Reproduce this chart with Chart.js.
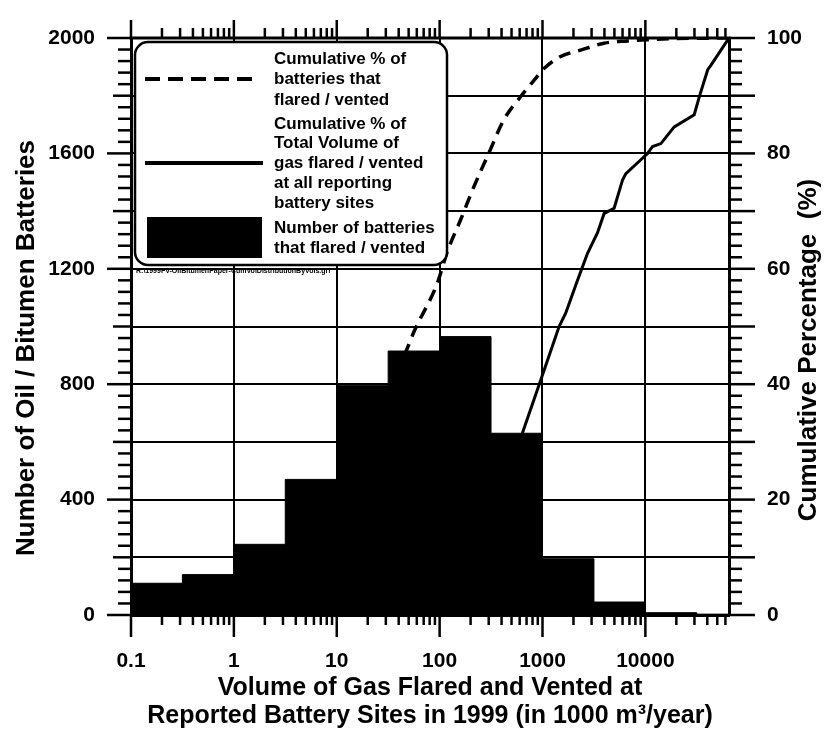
<!DOCTYPE html>
<html>
<head>
<meta charset="utf-8">
<script src="https://cdn.jsdelivr.net/npm/chart.js@4.4.1/dist/chart.umd.min.js"></script>
<style>
html,body{margin:0;padding:0;background:#fff;}
#wrap{width:827px;height:731px;position:relative;}
canvas{display:block;}
</style>
</head>
<body>
<div id="wrap"><canvas id="c" width="827" height="731"></canvas></div>
<script>
// ---------------- DATA ----------------
// Histogram bin edges (1000 m3/year, half-decade bins) and battery counts per bin
const binEdges = [0.1, 0.316, 1, 3.16, 10, 31.6, 100, 316, 1000, 3162, 10000, 31623, 65000];
const batteryCounts = [110, 140, 245, 470, 795, 915, 965, 630, 195, 45, 8, 3];

// Cumulative % of batteries that flared / vented (dashed line)
const cumBatteriesX   = [0.1, 0.316, 1, 3.16, 10, 20, 31.6, 50, 56, 95, 119, 160, 215, 300, 420, 610, 830, 1035, 1500, 2350, 3950, 6760, 10500, 20000, 65000];
const cumBatteriesPct = [0, 2.4, 5.5, 11, 21.5, 31, 38.5, 46.8, 49, 57.5, 63, 68.5, 74.2, 80, 85.8, 89.8, 92.7, 94.7, 96.8, 97.9, 99.1, 99.5, 99.7, 99.9, 100];

// Cumulative % of total volume flared / vented (solid line)
const cumVolumeX   = [0.1, 1, 10, 100, 316, 637, 960, 1450, 1680, 2190, 2740, 3420, 3975, 4970, 6000, 6460, 9040, 10500, 11750, 14160, 19070, 29850, 33420, 40360, 43460, 65000];
const cumVolumePct = [0, 0.2, 1.5, 8, 19, 31.5, 40.7, 50, 52.3, 58, 62.7, 66.2, 69.6, 70.5, 75.4, 76.5, 78.9, 80, 81.2, 81.7, 84.6, 86.7, 89.8, 94.5, 95.3, 100];

// Axis ticks
const xTickValues = [0.1, 1, 10, 100, 1000, 10000];
const xTickLabels = ['0.1', '1', '10', '100', '1000', '10000'];
const leftGridValues = [0, 200, 400, 600, 800, 1000, 1200, 1400, 1600, 1800, 2000];
const leftTickValues = [0, 400, 800, 1200, 1600, 2000];
const leftTickLabels = ['0', '400', '800', '1200', '1600', '2000'];
const rightTickValues = [0, 20, 40, 60, 80, 100];
const rightTickLabels = ['0', '20', '40', '60', '80', '100'];

// Texts
const xTitleLines = ['Volume of Gas Flared and Vented at', 'Reported Battery Sites in 1999 (in 1000 m\u00B3/year)'];
const yLeftTitle = 'Number of Oil / Bitumen Batteries';
const yRightTitle = 'Cumulative Percentage  (%)';
const legendBatteries = ['Cumulative % of', 'batteries that', 'flared / vented'];
const legendVolume = ['Cumulative % of', 'Total Volume of', 'gas flared / vented', 'at all reporting', 'battery sites'];
const legendCount = ['Number of batteries', 'that flared / vented'];
const fileNote = 'R:\\1999FV-OilBitumenPaper-CumVolDistributionByVols.grf';

// ---------------- CHART ----------------
const FONT = "'Liberation Sans', Arial, Helvetica, sans-serif";
const BLACK = '#000000';

const histPoints = binEdges.map((x, i) => ({ x, y: batteryCounts[Math.min(i, batteryCounts.length - 1)] }));
const battPoints = cumBatteriesX.map((x, i) => ({ x, y: cumBatteriesPct[i] }));
const volPoints = cumVolumeX.map((x, i) => ({ x, y: cumVolumePct[i] }));

function seg(ctx, x1, y1, x2, y2) { ctx.beginPath(); ctx.moveTo(x1, y1); ctx.lineTo(x2, y2); ctx.stroke(); }
function noPad(s) { s.paddingTop = 0; s.paddingBottom = 0; s.paddingLeft = 0; s.paddingRight = 0; }

const decorPlugin = {
  id: 'decor',
  afterDraw(chart) {
    const { ctx, chartArea: ca, scales } = chart;
    const x = scales.x, y = scales.y, y2 = scales.y2;
    ctx.save();
    ctx.strokeStyle = BLACK; ctx.fillStyle = BLACK; ctx.lineCap = 'butt';

    // top frame line
    ctx.lineWidth = 3;
    seg(ctx, ca.left - 1.5, ca.top, ca.right + 1.5, ca.top);

    // log tick marks bottom & top
    ctx.lineWidth = 2.5;
    for (let d = 0.1; d <= x.max; d *= 10) {
      for (let m = 1; m <= 9; m++) {
        const v = d * m;
        if (v < x.min * 0.999 || v > x.max) continue;
        const px = x.getPixelForValue(v);
        const major = m === 1;
        seg(ctx, px, ca.bottom, px, ca.bottom + (major ? 22 : 10));
        seg(ctx, px, ca.top, px, ca.top - (major ? 18 : 10));
      }
    }
    // left ticks
    for (let v = 0; v <= 2000; v += 40) {
      const py = y.getPixelForValue(v);
      const len = v % 400 === 0 ? 24 : (v % 200 === 0 ? 18 : 13);
      seg(ctx, ca.left - len, py, ca.left, py);
    }
    // right ticks
    for (let v = 0; v <= 100; v += 2) {
      const py = y2.getPixelForValue(v);
      const len = v % 10 === 0 ? 26 : 13;
      seg(ctx, ca.right, py, ca.right + len, py);
    }

    // vertical axis titles
    ctx.font = 'bold 26px ' + FONT;
    ctx.textAlign = 'center'; ctx.textBaseline = 'middle';
    ctx.save(); ctx.translate(27, 348); ctx.rotate(-Math.PI / 2); ctx.fillText(yLeftTitle, 0, 0); ctx.restore();
    ctx.save(); ctx.translate(809, 350); ctx.rotate(-Math.PI / 2); ctx.fillText(yRightTitle, 0, 0); ctx.restore();

    // legend box
    ctx.beginPath();
    ctx.roundRect(135, 42, 312, 223, 13);
    ctx.fillStyle = '#ffffff'; ctx.fill();
    ctx.lineWidth = 2.5; ctx.strokeStyle = BLACK; ctx.stroke();

    const dsHist = chart.data.datasets[0];
    ctx.lineWidth = 4;
    ctx.setLineDash([15, 8]);
    seg(ctx, 145, 79, 258, 79);
    ctx.setLineDash([]);
    seg(ctx, 145, 163, 263, 163);
    ctx.fillStyle = dsHist.backgroundColor;
    ctx.fillRect(147, 217, 115, 41);

    ctx.fillStyle = BLACK;
    ctx.font = 'bold 17px ' + FONT;
    ctx.textAlign = 'left'; ctx.textBaseline = 'middle';
    legendBatteries.forEach((t, i) => ctx.fillText(t, 274, 59 + i * 20.5));
    legendVolume.forEach((t, i) => ctx.fillText(t, 274, 124 + i * 19.8));
    legendCount.forEach((t, i) => ctx.fillText(t, 274, 228 + i * 20.5));

    // tiny file name note
    ctx.font = 'bold 7px ' + FONT;
    ctx.fillText(fileNote, 136, 271, 272);
    ctx.restore();
  }
};

new Chart(document.getElementById('c'), {
  type: 'line',
  data: {
    datasets: [
      {
        label: legendCount.join(' '),
        data: histPoints,
        stepped: true,
        fill: 'origin',
        backgroundColor: BLACK,
        borderColor: BLACK,
        borderWidth: 1,
        pointRadius: 0,
        yAxisID: 'y',
        order: 3
      },
      {
        label: legendBatteries.join(' '),
        data: battPoints,
        borderColor: BLACK,
        borderWidth: 3.5,
        borderDash: [12, 8],
        pointRadius: 0,
        fill: false,
        cubicInterpolationMode: 'monotone',
        yAxisID: 'y2',
        order: 1
      },
      {
        label: legendVolume.join(' '),
        data: volPoints,
        borderColor: BLACK,
        borderWidth: 3,
        pointRadius: 0,
        fill: false,
        tension: 0,
        yAxisID: 'y2',
        order: 2
      }
    ]
  },
  options: {
    responsive: false,
    animation: false,
    devicePixelRatio: 1,
    layout: { padding: { top: 38, left: 0, right: 0, bottom: 0 } },
    plugins: { legend: { display: false }, tooltip: { enabled: false } },
    scales: {
      x: {
        type: 'logarithmic',
        position: 'bottom',
        min: 0.1,
        max: 65000,
        afterBuildTicks: s => { s.ticks = xTickValues.map(v => ({ value: v })); },
        afterFit: s => { s.height = 116; noPad(s); },
        ticks: {
          autoSkip: false, maxRotation: 0, minRotation: 0, padding: 34,
          color: BLACK, font: { family: FONT, size: 21, weight: 'bold' },
          callback: (v, i) => xTickLabels[i]
        },
        grid: { color: BLACK, lineWidth: 2, drawTicks: false },
        border: { color: BLACK, width: 3 },
        title: {
          display: true, text: xTitleLines, color: BLACK,
          font: { family: FONT, size: 25, weight: 'bold', lineHeight: 1.12 },
          padding: { top: 0, bottom: 1 }
        }
      },
      y: {
        type: 'linear',
        position: 'left',
        min: 0,
        max: 2000,
        afterBuildTicks: s => { s.ticks = leftGridValues.map(v => ({ value: v })); },
        afterFit: s => { s.width = 131; noPad(s); },
        ticks: {
          padding: 36, color: BLACK, font: { family: FONT, size: 21, weight: 'bold' },
          callback: v => { const k = leftTickValues.indexOf(v); return k >= 0 ? leftTickLabels[k] : ''; }
        },
        grid: { color: BLACK, lineWidth: 2, drawTicks: false },
        border: { color: BLACK, width: 3 }
      },
      y2: {
        type: 'linear',
        position: 'right',
        min: 0,
        max: 100,
        afterBuildTicks: s => { s.ticks = rightTickValues.map(v => ({ value: v })); },
        afterFit: s => { s.width = 98; noPad(s); },
        ticks: {
          padding: 38, color: BLACK, font: { family: FONT, size: 21, weight: 'bold' },
          callback: v => { const k = rightTickValues.indexOf(v); return k >= 0 ? rightTickLabels[k] : ''; }
        },
        grid: { drawOnChartArea: false, drawTicks: false, color: BLACK },
        border: { color: BLACK, width: 3 }
      }
    }
  },
  plugins: [decorPlugin]
});
</script>
</body>
</html>
